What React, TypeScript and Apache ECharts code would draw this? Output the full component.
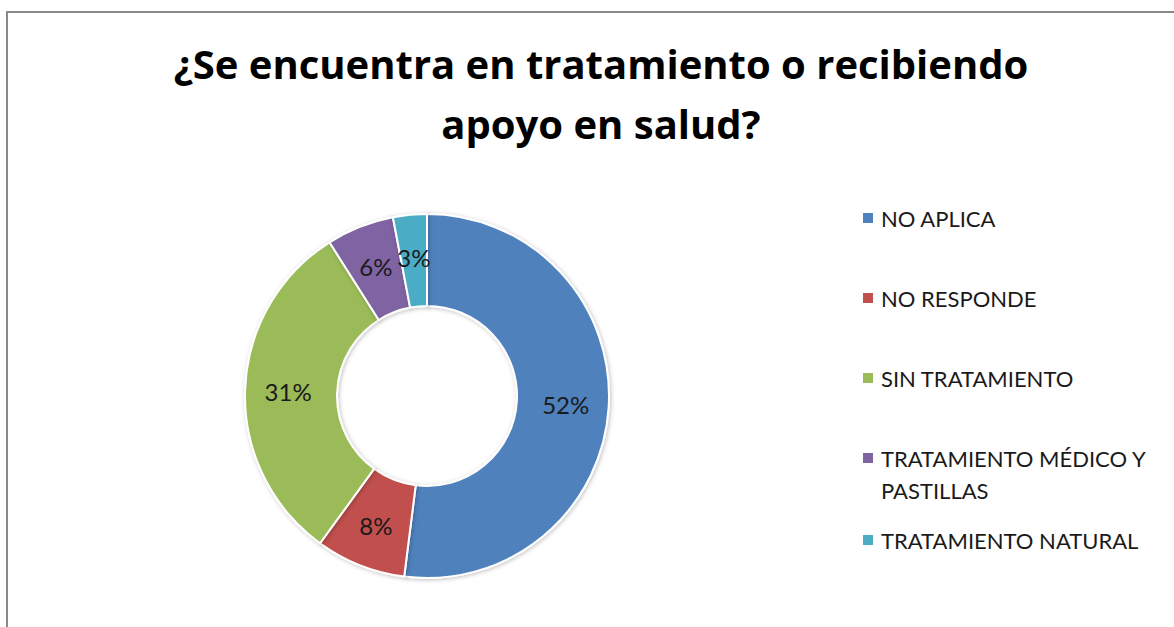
import React, { useEffect, useRef } from "react";
import * as echarts from "echarts";

const categories = [
  "NO APLICA",
  "NO RESPONDE",
  "SIN TRATAMIENTO",
  "TRATAMIENTO MÉDICO Y PASTILLAS",
  "TRATAMIENTO NATURAL",
];
const values = [52, 8, 31, 6, 3];
const colors = ["#4F81BD", "#C0504D", "#9BBB59", "#8064A2", "#4BACC6"];
const legendTops = [218, 298, 378, 458, 540];
const titleText = "¿Se encuentra en tratamiento o recibiendo\napoyo en salud?";

const FONT = "Lato, 'Noto Sans', sans-serif";
const TITLE_FONT = "'Open Sans', 'Noto Sans', sans-serif";

export default function App() {
  const ref = useRef<HTMLDivElement>(null);
  useEffect(() => {
    if (!ref.current) return;
    const chart = echarts.init(ref.current, undefined, { renderer: "svg" });
    const legends = categories.map((name, i) => {
      const multi = name === "TRATAMIENTO MÉDICO Y PASTILLAS";
      return {
        orient: "vertical",
        left: 861,
        top: legendTops[i] - 16 - (multi ? 32 : 0),
        padding: 0,
        itemWidth: 12,
        itemHeight: multi ? 76 : 12,
        icon: multi ? "path://M0,32h12v12h-12z M0,0L0,0 M0,76L0,76" : "rect",
        selectedMode: false,
        data: [name],
        formatter: (n: string) =>
          n === "TRATAMIENTO MÉDICO Y PASTILLAS" ? "\nTRATAMIENTO MÉDICO Y\nPASTILLAS" : n,
        textStyle: {
          fontFamily: FONT,
          fontSize: 22,
          color: "#1a1a1a",
          lineHeight: 32,
          padding: [0, 0, 0, 2],
        },
      };
    });
    chart.setOption({
      animation: false,
      color: colors,
      title: {
        text: titleText,
        left: 596,
        textAlign: "center",
        top: 28,
        textStyle: {
          fontFamily: TITLE_FONT,
          fontSize: 40,
          fontWeight: "bold",
          color: "#000",
          lineHeight: 60,
        },
      },
      legend: legends,
      graphic: [
        {
          type: "rect",
          shape: { x: 7, y: 12, width: 1300, height: 800 },
          style: { fill: "none", stroke: "#898989", lineWidth: 2 },
          silent: true,
        },
      ],
      series: [
        {
          type: "pie",
          center: [427, 396],
          radius: [90, 182],
          startAngle: 90,
          clockwise: true,
          avoidLabelOverlap: false,
          itemStyle: {
            borderColor: "#fff",
            borderWidth: 2,
            shadowColor: "rgba(0,0,0,0.25)",
            shadowBlur: 4,
            shadowOffsetX: 1,
            shadowOffsetY: 1,
          },
          label: {
            show: true,
            position: "inside",
            formatter: (p: any) => p.value + "%",
            fontFamily: FONT,
            fontSize: 24,
            color: "#1a1a1a",
          },
          labelLine: { show: false },
          emphasis: { disabled: true },
          data: categories.map((name, i) => ({ name, value: values[i] })),
        },
      ],
    });
    return () => chart.dispose();
  }, []);
  return (
    <div
      ref={ref}
      style={{ position: "absolute", left: 0, top: 0, width: 1174, height: 627, background: "#fff" }}
    />
  );
}
